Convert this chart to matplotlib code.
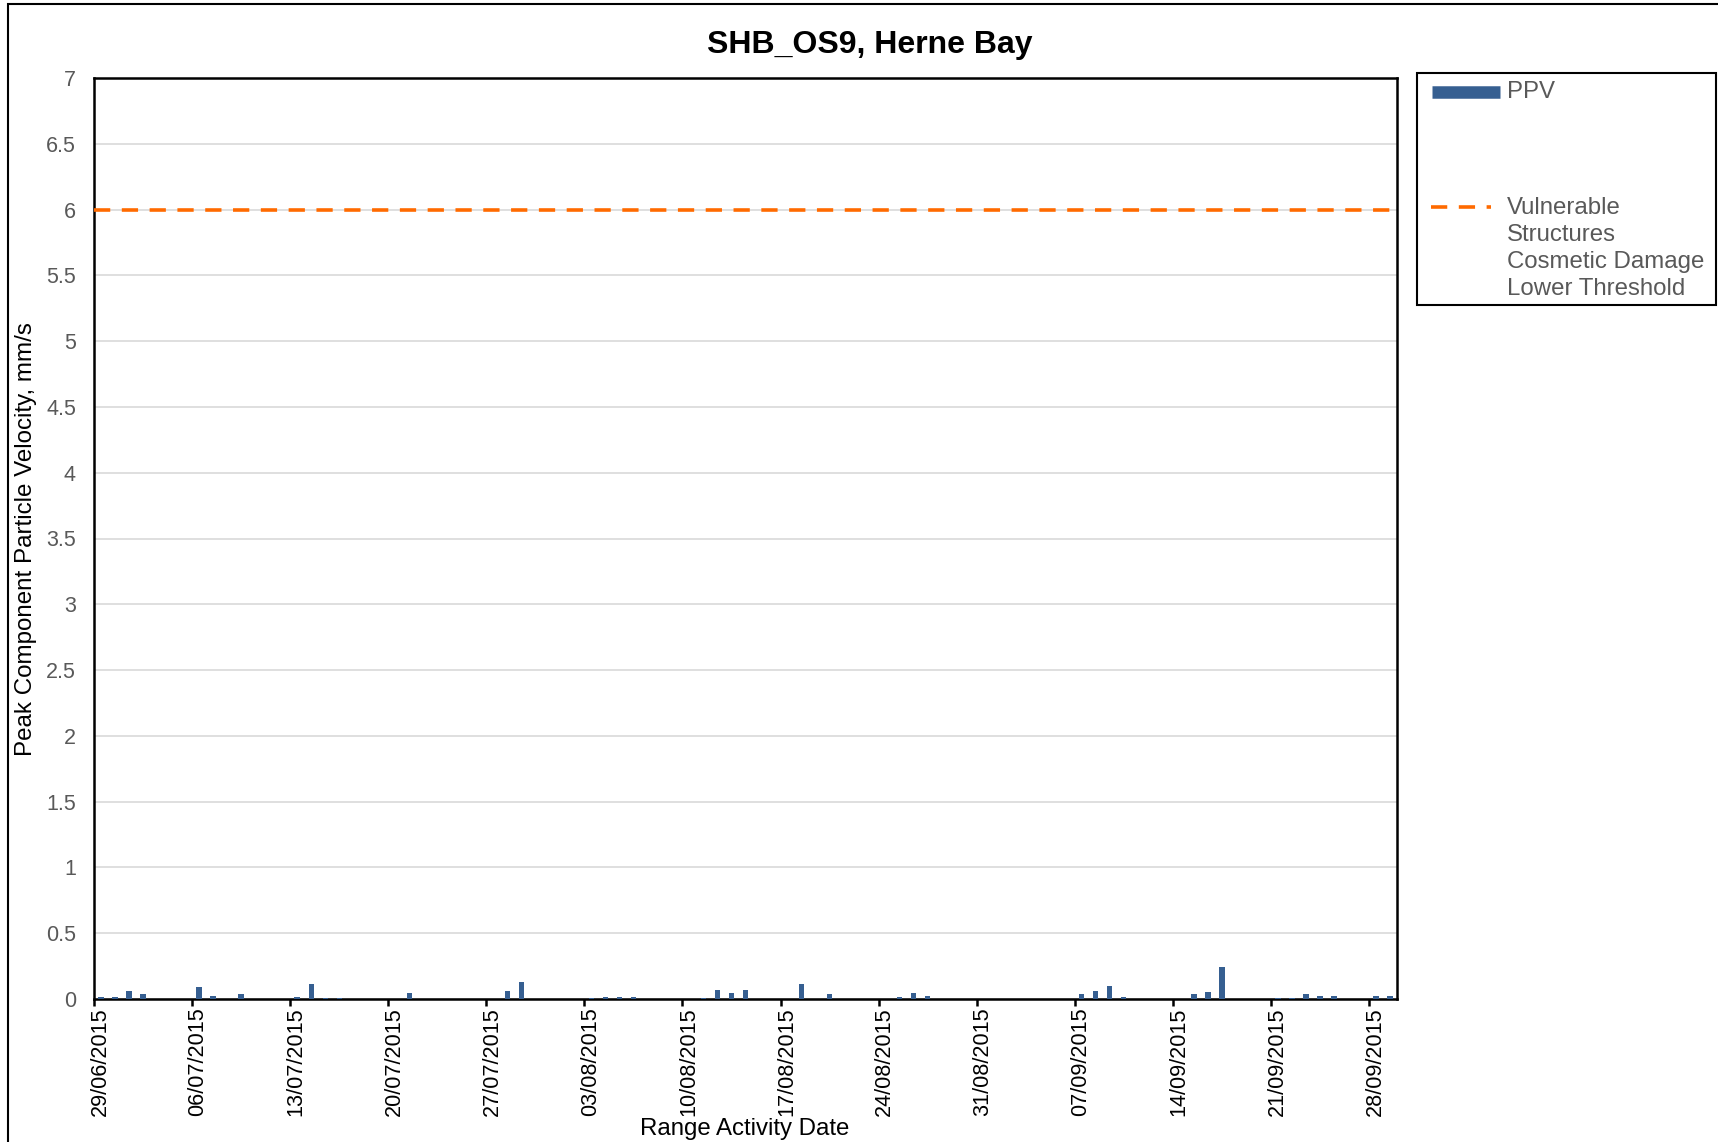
import matplotlib
matplotlib.use("Agg")
import matplotlib.pyplot as plt
import matplotlib.transforms as mtransforms
from matplotlib.patches import Rectangle
from matplotlib.lines import Line2D
import pandas as pd

plt.rcParams['font.family'] = ['Liberation Sans', 'DejaVu Sans']

# data
dates = ["29/06/2015", "30/06/2015", "01/07/2015", "02/07/2015", "06/07/2015",
         "07/07/2015", "09/07/2015", "13/07/2015", "14/07/2015", "15/07/2015",
         "16/07/2015", "21/07/2015", "28/07/2015", "29/07/2015", "03/08/2015",
         "04/08/2015", "05/08/2015", "06/08/2015", "11/08/2015", "12/08/2015",
         "13/08/2015", "14/08/2015", "18/08/2015", "20/08/2015", "25/08/2015",
         "26/08/2015", "27/08/2015", "07/09/2015", "08/09/2015", "09/09/2015",
         "10/09/2015", "15/09/2015", "16/09/2015", "17/09/2015", "21/09/2015",
         "22/09/2015", "23/09/2015", "24/09/2015", "25/09/2015", "28/09/2015",
         "29/09/2015"]
ppv = [0.013, 0.013, 0.058, 0.036, 0.089,
       0.020, 0.036, 0.013, 0.117, 0.005,
       0.005, 0.043, 0.058, 0.127, 0.010,
       0.018, 0.013, 0.013, 0.005, 0.071,
       0.046, 0.066, 0.112, 0.036, 0.013,
       0.048, 0.020, 0.036, 0.063, 0.101,
       0.013, 0.041, 0.051, 0.241, 0.005,
       0.005, 0.036, 0.025, 0.023, 0.025,
       0.023]
threshold = 6.0
x_start = "29/06/2015"
x_end = "30/09/2015"

bar_col = "#365f91"
thr_col = "#ff6a00"
grey_txt = "#595959"

d = pd.to_datetime(dates, format="%d/%m/%Y") + pd.Timedelta(hours=12)
x0 = pd.to_datetime(x_start, format="%d/%m/%Y")
x1 = pd.to_datetime(x_end, format="%d/%m/%Y")

fig = plt.figure(figsize=(17.18, 11.42), dpi=100)
ax = fig.add_axes([94 / 1718, 1 - 999 / 1142, (1397 - 94) / 1718, (999 - 78) / 1142])

ax.bar(d, ppv, width=0.38, color=bar_col, zorder=3)
ax.plot([x0, x1], [threshold, threshold], color=thr_col, lw=2.6,
        dashes=(4.5, 3.2), zorder=4)

ax.set_xlim(x0, x1)
ax.set_ylim(0, 7)
ax.set_yticks([i * 0.5 for i in range(15)])
ax.set_yticklabels(["0", "0.5", "1", "1.5", "2", "2.5", "3", "3.5", "4", "4.5",
                    "5", "5.5", "6", "6.5", "7"])
ax.grid(axis='y', color="#d9d9d9", lw=1.2, zorder=0)
ax.set_axisbelow(True)

ticks = pd.date_range(x0, x1, freq="7D")
ax.set_xticks(ticks)
ax.set_xticklabels([t.strftime("%d/%m/%Y") for t in ticks], rotation=90,
                   fontsize=15.6, color="black")
ax.tick_params(axis='x', direction='out', length=5, width=1.8, pad=1)
ax.tick_params(axis='y', length=0, pad=13, labelsize=15.5, labelcolor=grey_txt)
off = mtransforms.ScaledTranslation(6 / 100, 0, fig.dpi_scale_trans)
for lab in ax.get_xticklabels():
    lab.set_transform(lab.get_transform() + off)

for s in ax.spines.values():
    s.set_linewidth(1.8)
    s.set_color("black")

fig.text(26 / 1718, 1 - 539 / 1142, "Peak Component Particle Velocity, mm/s",
         rotation=90, ha='center', va='center', fontsize=17.4)
fig.text(745 / 1718, 1 - 1129 / 1142, "Range Activity Date",
         ha='center', va='center', fontsize=17.3)
fig.text(870 / 1718, 1 - 45 / 1142, "SHB_OS9, Herne Bay",
         ha='center', va='center', fontsize=23, fontweight='bold')

# legend box drawn by hand to match the layout
fig.add_artist(Rectangle((1417 / 1718, 1 - 305 / 1142), (1716 - 1417) / 1718,
                         (305 - 73) / 1142, transform=fig.transFigure,
                         fill=False, ec="black", lw=1.5))
fig.add_artist(Line2D([1432 / 1718, 1500 / 1718], [1 - 92 / 1142, 1 - 92 / 1142],
                      transform=fig.transFigure, color=bar_col, lw=9,
                      solid_capstyle='butt'))
fig.text(1507 / 1718, 1 - 92 / 1142, "PPV", ha='left', va='center',
         fontsize=17.3, color=grey_txt)
fig.add_artist(Line2D([1431 / 1718, 1491 / 1718], [1 - 207 / 1142, 1 - 207 / 1142],
                      transform=fig.transFigure, color=thr_col, lw=2.6,
                      dashes=(4.5, 3.2)))
fig.text(1507 / 1718, 1 - 197.5 / 1142,
         "Vulnerable\nStructures\nCosmetic Damage\nLower Threshold",
         ha='left', va='top', fontsize=17.3, color=grey_txt, linespacing=1.28)

# outer chart border
fig.add_artist(Rectangle((8 / 1718, -0.05), 1.2, 1.05 - 4 / 1142,
                         transform=fig.transFigure, fill=False, ec="black", lw=1.5))

fig.savefig("out.png", dpi=100)
